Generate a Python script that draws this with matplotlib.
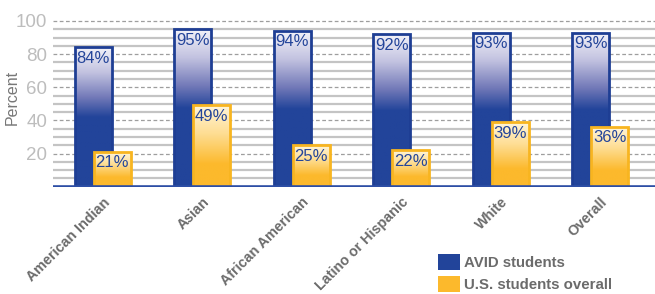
import matplotlib
matplotlib.use("Agg")
import matplotlib.pyplot as plt
import matplotlib.transforms as mtransforms
from matplotlib.colors import LinearSegmentedColormap
from matplotlib.patches import Patch
import numpy as np

categories = ["American Indian", "Asian", "African American", "Latino or Hispanic", "White", "Overall"]
avid = [84, 95, 94, 92, 93, 93]
us_overall = [21, 49, 25, 22, 39, 36]
series_names = ["AVID students", "U.S. students overall"]
yticks = [20, 40, 60, 80, 100]

FONT = ["Liberation Sans Narrow", "Liberation Sans", "DejaVu Sans"]
plt.rcParams["font.family"] = FONT

BLUE = "#22449A"
BLUE_EDGE = "#1E3E94"
YELLOW = "#FCB92C"
YELLOW_EDGE = "#F8B520"
LABEL_BLUE = "#24459A"

fig = plt.figure(figsize=(6.55, 2.94), dpi=100)
ax = fig.add_axes([0.081, 0.365, 0.919, 0.592])

x = np.arange(len(categories))
off = 0.095
w = 0.37

blue_cmap = LinearSegmentedColormap.from_list(
    "b", [(0.0, "#F2F2F9"), (0.18, "#C2C2E0"), (0.36, "#7279B8"), (0.5, BLUE), (1.0, BLUE)])
yel_cmap = LinearSegmentedColormap.from_list(
    "y", [(0.0, "#FFF5DA"), (0.35, "#FEDD92"), (0.72, YELLOW), (1.0, YELLOW)])

# grid
for v in np.arange(5, 101, 5):
    if v % 20 == 0:
        ax.axhline(v, color="#9E9E9E", lw=0.9, ls=(0, (3, 2)), zorder=0.5)
    else:
        ax.axhline(v, color="#C4C4C4", lw=1.6, zorder=0.5)
ax.axhline(0, color="#2D4EA5", lw=2.6, zorder=6)

def grad_bars(xs, vals, cmap, edge, z):
    bars = ax.bar(xs, vals, width=w, facecolor="none", edgecolor=edge, lw=2.0, zorder=z + 0.2)
    grad = np.linspace(0, 1, 256).reshape(-1, 1)
    for b in bars:
        bx, by = b.get_x(), b.get_y()
        bw, bh = b.get_width(), b.get_height()
        fill = ax.bar(bx + bw / 2, bh, width=bw, bottom=by, color="white", lw=0, zorder=z)[0]
        im = ax.imshow(grad, cmap=cmap, extent=[bx, bx + bw, by, by + bh], origin="upper",
                       aspect="auto", zorder=z + 0.1, interpolation="bilinear")
        im.set_clip_path(fill)
    return bars

b1 = grad_bars(x - off, avid, blue_cmap, BLUE_EDGE, 2)
b2 = grad_bars(x + off, us_overall, yel_cmap, YELLOW_EDGE, 3)

for bars, vals in ((b1, avid), (b2, us_overall)):
    for b, v in zip(bars, vals):
        ax.annotate(f"{v}%", (b.get_x() + b.get_width() / 2, b.get_height()),
                    xytext=(0, -2.5), textcoords="offset points", ha="center", va="top",
                    color=LABEL_BLUE, fontsize=12, zorder=10)

ax.set_xlim(-0.5, 5.55)
ax.set_ylim(0, 105)
ax.set_yticks(yticks)
ax.set_yticklabels([str(t) for t in yticks], color="#BDBDBD", fontsize=13.5)
for lab in ax.get_yticklabels():
    lab.set_transform(lab.get_transform() + mtransforms.ScaledTranslation(0, 4 / 72, fig.dpi_scale_trans))
ax.set_xticks(x)
ax.set_xticklabels(categories, rotation=45, ha="right", rotation_mode="anchor",
                   color="#6B6B6B", fontsize=10.3, fontweight="bold")
for lab in ax.get_xticklabels():
    lab.set_transform(lab.get_transform() + mtransforms.ScaledTranslation(9 / 72, 0, fig.dpi_scale_trans))
ax.tick_params(axis="y", length=0, pad=4)
ax.tick_params(axis="x", length=0, pad=6)
for s in ax.spines.values():
    s.set_visible(False)
ax.set_ylabel("Percent", color="#777777", fontsize=11.5)
ax.yaxis.set_label_coords(-0.055, 0.515)

handles = [Patch(facecolor=BLUE, edgecolor="none"), Patch(facecolor=YELLOW, edgecolor="none")]
fig.legend(handles, series_names, loc="upper left", bbox_to_anchor=(432 / 655, 1 - 248 / 294),
           frameon=False, handlelength=1.45, handleheight=1.3, handletextpad=0.3,
           labelspacing=0.35, prop={"family": FONT, "size": 10.8, "weight": "bold"},
           labelcolor="#6B6B6B", borderaxespad=0)

fig.savefig("out.png", dpi=100)
